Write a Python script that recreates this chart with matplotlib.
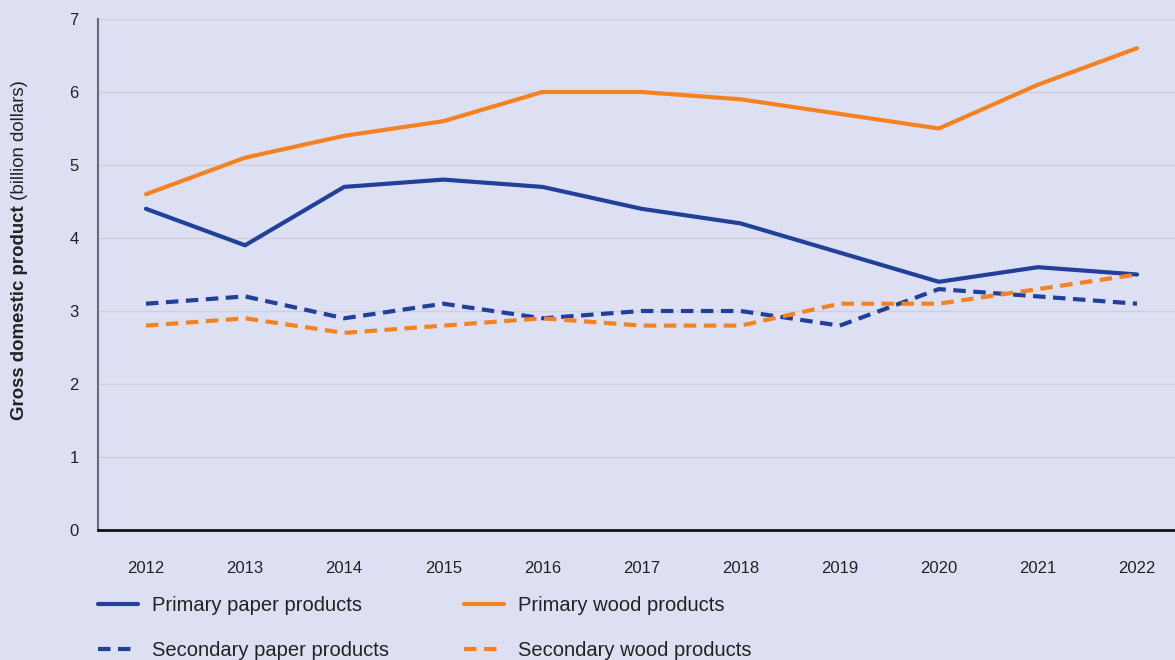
import numpy as np
import matplotlib.pyplot as plt
from matplotlib import font_manager

########################################
# data

years = [2012, 2013, 2014, 2015, 2016, 2017, 2018, 2019, 2020, 2021, 2022]
primary_paper = [4.4, 3.9, 4.7, 4.8, 4.7, 4.4, 4.2, 3.8, 3.4, 3.6, 3.5]
primary_wood = [4.6, 5.1, 5.4, 5.6, 6.0, 6.0, 5.9, 5.7, 5.5, 6.1, 6.6]
secondary_paper = [3.1, 3.2, 2.9, 3.1, 2.9, 3.0, 3.0, 2.8, 3.3, 3.2, 3.1]
secondary_wood = [2.8, 2.9, 2.7, 2.8, 2.9, 2.8, 2.8, 3.1, 3.1, 3.3, 3.5]

y_ticks = [0, 1, 2, 3, 4, 5, 6, 7]

########################################
# style

names = {f.name for f in font_manager.fontManager.ttflist}
fam = 'Liberation Sans Narrow' if 'Liberation Sans Narrow' in names else 'Liberation Sans'
plt.rcParams['font.family'] = [fam, 'DejaVu Sans']

bg = '#dce0f2'
blue = '#22409a'
orange = '#f58220'
lw = 3.0
dash = (0, (3.0, 1.8))

fig = plt.figure(figsize=(11.75, 6.6), dpi=100, facecolor=bg)
ax = fig.add_axes([98/1175, 1 - 530/660, 1 - 98/1175, (530 - 19)/660])
ax.set_facecolor(bg)

ax.plot(years, primary_paper, color=blue, lw=lw, solid_capstyle='round', label='Primary paper products')
ax.plot(years, primary_wood, color=orange, lw=lw, solid_capstyle='round', label='Primary wood products')
ax.plot(years, secondary_paper, color=blue, lw=lw, ls=dash, dash_capstyle='butt', label='Secondary paper products')
ax.plot(years, secondary_wood, color=orange, lw=lw, ls=dash, dash_capstyle='butt', label='Secondary wood products')

ax.set_xlim(2011.516, 2022.383)
ax.set_ylim(0, 7)
ax.set_xticks(years)
ax.set_yticks(y_ticks)
ax.tick_params(axis='both', length=0, labelsize=12, colors='#222222')
ax.tick_params(axis='x', pad=22)
ax.tick_params(axis='y', pad=14)
ax.grid(axis='y', color='#cfd0dc', lw=1)
ax.set_axisbelow(True)

for s in ['top', 'right']:
    ax.spines[s].set_visible(False)
ax.spines['left'].set_color('#6b6b78')
ax.spines['left'].set_linewidth(1.5)
ax.spines['bottom'].set_color('#111111')
ax.spines['bottom'].set_linewidth(2)

# y label: bold part + normal part
t1 = fig.text(20/1175, 1 - 420/660, 'Gross domestic product', rotation=90,
              fontsize=13.4, fontweight='bold', color='#222222', ha='center', va='bottom')
ax.annotate(' (billion dollars)', xy=(0.5, 1), xycoords=t1, rotation=90,
            fontsize=13.4, color='#222222', ha='center', va='bottom', annotation_clip=False)

# legend in order of the reference (column-wise)
h, l = ax.get_legend_handles_labels()
order = [0, 2, 1, 3]
fig.legend([h[i] for i in order], [l[i] for i in order], ncol=2, loc='upper left',
           bbox_to_anchor=(98/1175, 1 - 596/660), frameon=False, fontsize=14.5,
           borderpad=0, borderaxespad=0, handlelength=2.0, handletextpad=0.7,
           labelspacing=1.3, columnspacing=3.7, labelcolor='#222222')

fig.savefig('out.png', dpi=100, facecolor=bg)
